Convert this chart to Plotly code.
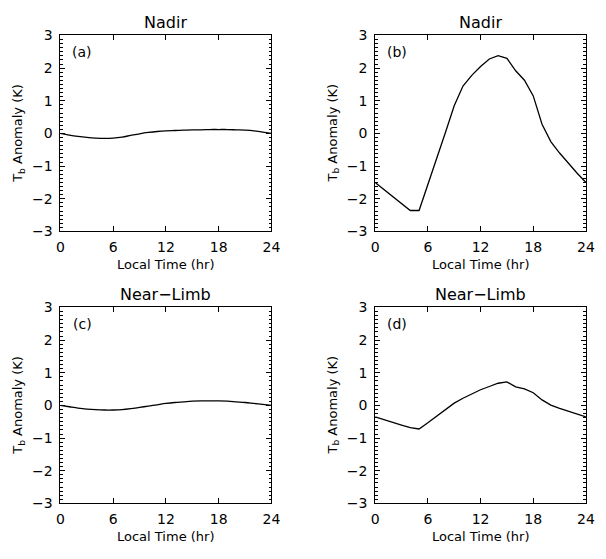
import plotly.graph_objects as go

hours = list(range(25))

nadir_a = [0.00, -0.05, -0.09, -0.12, -0.14, -0.15, -0.14, -0.11, -0.06, -0.01, 0.03, 0.06,
           0.08, 0.09, 0.10, 0.11, 0.11, 0.12, 0.12, 0.12, 0.11, 0.10, 0.08, 0.04, 0.00]
nadir_b = [-1.50, -1.72, -1.93, -2.15, -2.36, -2.36, -1.58, -0.80, 0.03, 0.85, 1.45, 1.78,
           2.05, 2.28, 2.38, 2.30, 1.92, 1.63, 1.15, 0.28, -0.25, -0.60, -0.92, -1.22, -1.50]
limb_c = [0.00, -0.04, -0.08, -0.11, -0.13, -0.14, -0.14, -0.13, -0.10, -0.06, -0.02, 0.02,
          0.06, 0.09, 0.11, 0.13, 0.14, 0.14, 0.14, 0.13, 0.11, 0.09, 0.06, 0.03, 0.00]
limb_d = [-0.35, -0.44, -0.52, -0.60, -0.68, -0.72, -0.53, -0.33, -0.12, 0.07, 0.22, 0.36,
          0.48, 0.58, 0.68, 0.72, 0.57, 0.51, 0.39, 0.17, 0.01, -0.09, -0.18, -0.27, -0.35]

x_ticks = [0, 6, 12, 18, 24]
y_ticks = [-3, -2, -1, 0, 1, 2, 3]
panel_titles = ["Nadir", "Nadir", "Near\u2212Limb", "Near\u2212Limb"]
panel_labels = ["(a)", "(b)", "(c)", "(d)"]
x_title = "Local Time (hr)"
y_title = "T<sub>b</sub> Anomaly (K)"

W, H = 606, 559
xdoms = [(57.7 / W, 273.3 / W), (379.3 / W, 594.7 / W)]
ydoms = [(1 - 230 / H, 1 - 28.3 / H), (1 - 510 / H, 1 - 308.3 / H)]

series = [nadir_a, nadir_b, limb_c, limb_d]
shapes = ["spline", "linear", "spline", "linear"]

FONT = "DejaVu Sans"
fig = go.Figure()
layout = dict(width=W, height=H, margin=dict(l=0, r=0, t=0, b=0),
              paper_bgcolor="white", plot_bgcolor="white", showlegend=False,
              font=dict(family=FONT, size=14, color="black"))
annotations = []
for i in range(4):
    row, col = divmod(i, 2)
    sfx = "" if i == 0 else str(i + 1)
    xa, ya = "x" + sfx, "y" + sfx
    fig.add_trace(go.Scatter(x=hours, y=series[i], mode="lines",
                             line=dict(color="black", width=1.3, shape=shapes[i]),
                             xaxis=xa, yaxis=ya))
    layout["xaxis" + sfx] = dict(domain=xdoms[col], anchor=ya, range=[0, 24],
                                 tickvals=x_ticks, ticks="inside", ticklen=5, tickcolor="black",
                                 showline=True, linecolor="black", linewidth=1, mirror="ticks",
                                 showgrid=False, zeroline=False, tickfont=dict(size=14),
                                 ticklabelstandoff=3)
    layout["yaxis" + sfx] = dict(domain=ydoms[row], anchor=xa, range=[-3, 3],
                                 tickvals=y_ticks, ticks="inside", ticklen=5, tickcolor="black",
                                 showline=True, linecolor="black", linewidth=1, mirror="ticks",
                                 showgrid=False, zeroline=False, tickfont=dict(size=14),
                                 ticklabelstandoff=4,
                                 minor=dict(dtick=0.125, tick0=0, ticks="inside", ticklen=2.5,
                                            tickcolor="black", showgrid=False))
    x0, x1 = xdoms[col]
    y0, y1 = ydoms[row]
    annotations.append(dict(text=panel_titles[i], xref="paper", yref="paper",
                            x=(x0 + x1) / 2, y=y1 + 13.5 / H, xanchor="center", yanchor="middle",
                            showarrow=False, font=dict(size=16)))
    annotations.append(dict(text=x_title, xref="paper", yref="paper",
                            x=(x0 + x1) / 2, y=y0 - 34 / H, xanchor="center", yanchor="middle",
                            showarrow=False, font=dict(size=13)))
    annotations.append(dict(text=y_title, xref="paper", yref="paper",
                            x=x0 - 43 / W, y=(y0 + y1) / 2, xanchor="center", yanchor="middle",
                            textangle=-90, showarrow=False, font=dict(size=13)))
    annotations.append(dict(text=panel_labels[i], xref=xa, yref=ya, x=2.5, y=2.5,
                            xanchor="center", yanchor="middle", showarrow=False,
                            font=dict(size=14)))
layout["annotations"] = annotations
fig.update_layout(**layout)
fig.write_html("out.html")
